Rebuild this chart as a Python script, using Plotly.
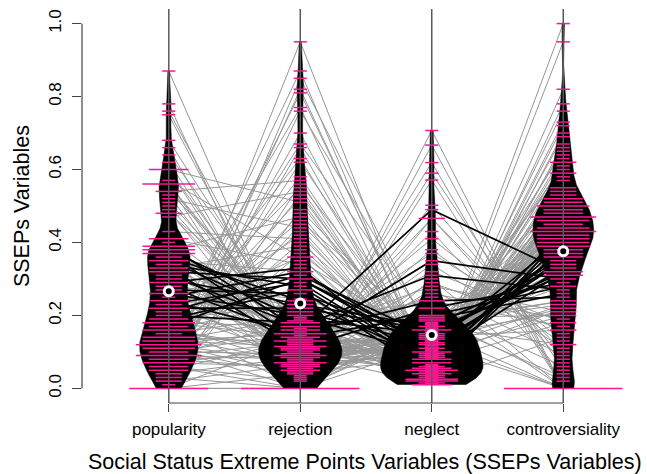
import numpy as np
import plotly.graph_objects as go

# ---- data -----------------------------------------------------------------
categories = ["popularity", "rejection", "neglect", "controversiality"]

popularity = [
    0, 0.03, 0, 0.06, 0, 0.08, 0.04, 0.11, 0.02, 0.07, 0.12, 0.05, 0.09, 0.14, 0.06, 0.10, 0.13, 0.07, 0.16, 0, 0.09, 0.12,
    0.05, 0.12, 0, 0.03, 0.09, 0.15, 0.02, 0.07, 0.11, 0.04, 0.17, 0.06, 0.13, 0.01, 0.19, 0.08, 0.14, 0, 0.10, 0.16, 0.05, 0.12, 0.18, 0.09, 0.14, 0.07, 0.20, 0.11,
    0.54, 0.47, 0.60, 0.38, 0.52, 0.43, 0.33, 0.57, 0.41, 0.35,
    0.87, 0.78, 0.76, 0.75, 0.68, 0.66, 0.64, 0.62, 0.60, 0.60, 0.56, 0.56, 0.56, 0.56, 0.54, 0.53, 0.51, 0.50, 0.49, 0.48, 0.48, 0.41, 0.41, 0.40, 0.39, 0.39, 0.38, 0.37, 0.37, 0.35,
    0.39, 0.38, 0.37, 0.36, 0.34, 0.33, 0.32, 0.32, 0.31, 0.30, 0.29, 0.29, 0.28, 0.27, 0.26, 0.26, 0.24, 0.24, 0.23, 0.22, 0.22, 0.21, 0.19, 0.18, 0.18, 0.18, 0.17, 0.16, 0.16, 0.15, 0.14, 0.13, 0.13, 0.12, 0.11, 0.10, 0.09, 0.08,
    0.39, 0.38, 0.37, 0.36, 0.35, 0.34, 0.33, 0.32, 0.31, 0.30, 0.29, 0.28, 0.27, 0.26, 0.25, 0.24, 0.23, 0.22, 0.21, 0.20, 0.19, 0.17,
]

rejection = [
    0, 0, 0.04, 0.02, 0, 0.055, 0.085, 0.03, 0.065, 0.11, 0.07, 0.135, 0.08, 0.125, 0, 0.095, 0.15, 0.06, 0.095, 0.14, 0.185, 0.04,
    0.95, 0.87, 0.85, 0.82, 0.81, 0.77, 0.76, 0.70, 0.67, 0.66, 0.63, 0.62, 0.58, 0.56, 0.55, 0.53, 0.52, 0.49, 0.48, 0.46, 0.45, 0.43, 0.42, 0.40, 0.38, 0.37, 0.36, 0.35,
    0.57, 0.54, 0.51, 0.47, 0.44, 0.41, 0.39, 0.36, 0.34, 0.32,
    0.045, 0, 0.09, 0.06, 0.115, 0.025, 0.15, 0.07, 0.105, 0.05, 0.13, 0.08, 0, 0.11, 0.17, 0.055, 0.135, 0.095, 0.035, 0.12, 0.18, 0.075, 0.155, 0.10, 0.05, 0.13, 0.085, 0.165, 0.115, 0.065,
    0.05, 0.075, 0, 0.12, 0.06, 0.185, 0.10, 0.145, 0.07, 0.22, 0.09, 0.16, 0.245, 0.105, 0.045, 0.18, 0.13, 0.21, 0.09, 0.27, 0.115, 0.085, 0.23, 0.14, 0, 0.17, 0.065, 0.24, 0.105, 0.20, 0.07, 0.195, 0.115, 0.16, 0, 0.15, 0.125, 0.09,
    0.16, 0.21, 0.13, 0.24, 0.19, 0.28, 0.11, 0.30, 0.17, 0.23, 0.33, 0.14, 0.26, 0.20, 0.32, 0.15, 0.29, 0.22, 0.31, 0.18, 0.27, 0.30,
]

neglect = [
    0.707, 0.667, 0.619, 0.59, 0.571, 0.502, 0.466, 0.466, 0.43, 0.41, 0.38, 0.37, 0.34, 0.32, 0.30, 0.29, 0.28, 0.27, 0.26, 0.25, 0.24, 0.22,
    0.032, 0.02, 0.135, 0.043, 0.057, 0.01, 0.155, 0.025, 0.168, 0.02, 0.038, 0.092, 0.052, 0.103, 0.033, 0.055, 0.025, 0.117, 0.04, 0.148, 0.122, 0.035, 0.063, 0.085, 0.05, 0.097, 0.045, 0.128,
    0.015, 0.027, 0.03, 0.013, 0.045, 0.01, 0.053, 0.025, 0.037, 0.06,
    0.08, 0.118, 0.047, 0.10, 0.028, 0.14, 0.162, 0.09, 0.041, 0.11, 0.018, 0.125, 0.16, 0.05, 0.02, 0.093, 0.065, 0.113, 0.15, 0.157, 0.03, 0.102, 0.055, 0.07, 0.175, 0.04, 0.108, 0.012, 0.085, 0.138,
    0.165, 0.135, 0.19, 0.095, 0.152, 0.05, 0.105, 0.172, 0.185, 0.025, 0.145, 0.083, 0.02, 0.10, 0.195, 0.022, 0.125, 0.035, 0.16, 0.01, 0.088, 0.185, 0.055, 0.112, 0.20, 0.153, 0.18, 0.178, 0.132, 0.08, 0.195, 0.107, 0.145, 0.095, 0.17, 0.07, 0.142, 0.015,
    0.49, 0.12, 0.35, 0.08, 0.15, 0.06, 0.22, 0.10, 0.31, 0.17, 0.05, 0.20, 0.13, 0.09, 0.11, 0.24, 0.07, 0.16, 0.14, 0.19, 0.04, 0.12,
]

controversiality = [
    0, 0, 0, 0.05, 0, 0.08, 0.10, 0.07, 0.04, 0.13, 0.12, 0.15, 0.11, 0.18, 0, 0.16, 0.21, 0.09, 0.19, 0, 0.17, 0.06,
    1.00, 0.95, 0, 0.51, 0.46, 0.78, 0.59, 0.73, 0.49, 0.72, 0.66, 0.65, 0.64, 0.61, 0.62, 0.55, 0.47, 0, 0.57, 0.44, 0.55, 0.54, 0.53, 0.52, 0.51, 0.50, 0.49, 0.48,
    0.82, 0.59, 0.76, 0.70, 0.69, 0.67, 0.63, 0.58, 0.62, 0.60,
    0.36, 0.30, 0.47, 0.43, 0.50, 0.33, 0.52, 0.44, 0.48, 0.40, 0.49, 0.42, 0, 0.46, 0.53, 0.41, 0.47, 0.44, 0.31, 0.45, 0.50, 0.39, 0.46, 0.43, 0.34, 0.45, 0.40, 0.47, 0.42, 0.37,
    0.31, 0.38, 0.03, 0.43, 0.35, 0.50, 0.41, 0.46, 0.37, 0.52, 0.39, 0.44, 0.54, 0.39, 0.42, 0.45, 0.40, 0.47, 0.43, 0.51, 0.38, 0.24, 0.48, 0.41, 0.02, 0.28, 0.23, 0.24, 0.22, 0.22, 0.20, 0.23, 0.21, 0.20, 0.12, 0.18, 0.16, 0.14,
    0.32, 0.41, 0.30, 0.38, 0.32, 0.43, 0.29, 0.36, 0.27, 0.34, 0.39, 0.28, 0.37, 0.32, 0.35, 0.25, 0.40, 0.31, 0.36, 0.26, 0.42, 0.33,
]

# subjects whose profiles are drawn in black
highlighted = list(range(128, 150))

y_tick_values = [0.0, 0.2, 0.4, 0.6, 0.8, 1.0]
x_title = "Social Status Extreme Points Variables (SSEPs Variables)"
y_title = "SSEPs Variables"

# ---- styling constants ----------------------------------------------------
X_RANGE = [0.34, 4.637]
Y_RANGE = [-0.04, 1.04]
BANDWIDTH = 0.036          # shared kernel bandwidth for all beans
MAX_HALF_WIDTH = 0.39      # widest bean half-width, in category units
LINE_PER_POINT = 0.1       # beanline length contributed by each observation
PINK = "#FF1493"
GREY_LINE = "rgb(150,150,150)"
AXIS_COLOR = "#444444"
FONT = "Liberation Sans, Arial, Helvetica, sans-serif"

series = [popularity, rejection, neglect, controversiality]
positions = list(range(1, len(categories) + 1))
n_subjects = len(popularity)

fig = go.Figure()


def profile_paths(indices):
    xs, ys = [], []
    for i in indices:
        for pos, values in zip(positions, series):
            xs.append(pos)
            ys.append(values[i])
        xs.append(None)
        ys.append(None)
    return xs, ys


# parallel profile lines per subject
hl = set(highlighted)
gx, gy = profile_paths([i for i in range(n_subjects) if i not in hl])
fig.add_trace(go.Scatter(x=gx, y=gy, mode="lines", line=dict(color=GREY_LINE, width=1),
                         hoverinfo="skip"))
bx, by = profile_paths(highlighted)
fig.add_trace(go.Scatter(x=bx, y=by, mode="lines", line=dict(color="black", width=1.7),
                         hoverinfo="skip"))


# beans: gaussian kernel density cut at the data range, mirrored around the position
def kde(values, grid):
    v = np.asarray(values, dtype=float)
    z = (grid[:, None] - v[None, :]) / BANDWIDTH
    return np.exp(-0.5 * z * z).sum(axis=1) / (v.size * BANDWIDTH * np.sqrt(2 * np.pi))


grids = [np.linspace(min(s), max(s), 400) for s in series]
densities = [kde(s, g) for s, g in zip(series, grids)]
scale = MAX_HALF_WIDTH / max(d.max() for d in densities)

for pos, grid, dens in zip(positions, grids, densities):
    half = dens * scale
    xs = np.concatenate([pos + half, (pos - half)[::-1]])
    ys = np.concatenate([grid, grid[::-1]])
    fig.add_trace(go.Scatter(x=xs, y=ys, mode="lines", fill="toself", fillcolor="black",
                             line=dict(color="black", width=0.5), hoverinfo="skip"))

# beanlines: one horizontal line per observation, lengthened by ties
px, py = [], []
for pos, values in zip(positions, series):
    vals, counts = np.unique(np.round(values, 4), return_counts=True)
    for v, c in zip(vals, counts):
        half = LINE_PER_POINT * c / 2
        px += [pos - half, pos + half, None]
        py += [float(v), float(v), None]
fig.add_trace(go.Scatter(x=px, y=py, mode="lines", line=dict(color=PINK, width=1.5),
                         hoverinfo="skip"))

# vertical guide through each bean
for pos in positions:
    fig.add_trace(go.Scatter(x=[pos, pos], y=Y_RANGE, mode="lines",
                             line=dict(color="#5a5a5a", width=1.5), hoverinfo="skip"))

# bean averages
fig.add_trace(go.Scatter(
    x=positions, y=[float(np.mean(s)) for s in series], mode="markers",
    marker=dict(symbol="circle", size=9, color="black", line=dict(color="white", width=3)),
    hoverinfo="skip", cliponaxis=False))

# axis lines spanning only the tick range
fig.add_shape(type="line", xref="paper", yref="y", x0=0, x1=0,
              y0=y_tick_values[0], y1=y_tick_values[-1], line=dict(color=AXIS_COLOR, width=1.2))
fig.add_shape(type="line", xref="x", yref="paper", x0=positions[0], x1=positions[-1],
              y0=0, y1=0, line=dict(color=AXIS_COLOR, width=1.2))

fig.add_annotation(text=x_title, xref="paper", yref="paper", x=0.5, y=-0.15,
                   xanchor="center", yanchor="middle", showarrow=False,
                   font=dict(size=21.5, family=FONT, color="black"))
fig.add_annotation(text=y_title, xref="paper", yref="paper", x=-0.106, y=0.5,
                   xanchor="center", yanchor="middle", textangle=-90, showarrow=False,
                   font=dict(size=21.5, family=FONT, color="black"))

fig.update_layout(
    width=647, height=474,
    margin=dict(l=82, r=0, t=9, b=71),
    plot_bgcolor="white", paper_bgcolor="white",
    showlegend=False,
    font=dict(family=FONT, color="black"),
)
fig.update_xaxes(range=X_RANGE, tickvals=positions, ticktext=categories,
                 ticks="outside", ticklen=8, tickwidth=1.2, tickcolor=AXIS_COLOR,
                 showline=False, showgrid=False, zeroline=False,
                 tickfont=dict(size=17, family=FONT, color="black"), ticklabelstandoff=3)
fig.update_yaxes(range=Y_RANGE, tickvals=y_tick_values,
                 ticktext=[f"{v:.1f}" for v in y_tick_values], tickangle=-90,
                 ticks="outside", ticklen=9, tickwidth=1.2, tickcolor=AXIS_COLOR,
                 showline=False, showgrid=False, zeroline=False,
                 tickfont=dict(size=17, family=FONT, color="black"), ticklabelstandoff=4)

fig.write_html("out.html", config={"displayModeBar": False})
